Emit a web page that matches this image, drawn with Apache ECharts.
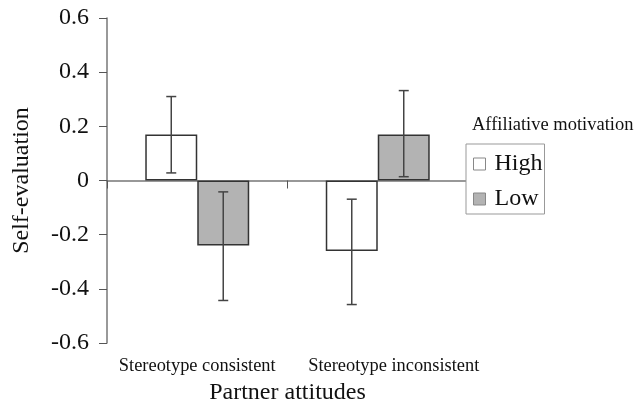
<!DOCTYPE html>
<html><head><meta charset="utf-8">
<script src="https://cdn.jsdelivr.net/npm/echarts@6/dist/echarts.min.js"></script>
<style>html,body{margin:0;padding:0;background:#fff}#c{width:636px;height:404px}</style>
</head><body><div id="c"></div>
<script>
const categories = ['Stereotype consistent', 'Stereotype inconsistent'];
const seriesNames = ['High', 'Low'];
const highValues = [0.17, -0.26];
const lowValues = [-0.24, 0.17];
const highErrLow = [0.028, -0.458];
const highErrHigh = [0.31, -0.069];
const lowErrLow = [-0.443, 0.014];
const lowErrHigh = [-0.042, 0.332];
const yTicks = [-0.6, -0.4, -0.2, 0, 0.2, 0.4, 0.6];

const FONT = "'Liberation Serif','Times New Roman',serif";
const BAR_FRAC = 0.288;
const LABEL_PAD = [0, 32];

function errSeries(lo, hi, sign) {
  return {
    type: 'custom',
    z: 5,
    data: categories.map((c, i) => [i, lo[i], hi[i]]),
    renderItem: function (params, api) {
      const band = api.size([1, 0])[0];
      const p0 = api.coord([api.value(0), api.value(1)]);
      const p1 = api.coord([api.value(0), api.value(2)]);
      const x = p0[0] + sign * band * BAR_FRAC / 2;
      const w = 5;
      const st = { stroke: '#444', lineWidth: 1.5 };
      return { type: 'group', children: [
        { type: 'line', shape: { x1: x, y1: p0[1], x2: x, y2: p1[1] }, style: st },
        { type: 'line', shape: { x1: x - w, y1: p0[1], x2: x + w, y2: p0[1] }, style: st },
        { type: 'line', shape: { x1: x - w, y1: p1[1], x2: x + w, y2: p1[1] }, style: st }
      ]};
    }
  };
}

const chart = echarts.init(document.getElementById('c'), null, { renderer: 'canvas' });
chart.setOption({
  animation: false,
  backgroundColor: '#fff',
  title: {
    text: 'Affiliative motivation', left: 472, top: 116, padding: 0,
    textStyle: { fontFamily: FONT, fontSize: 18.5, fontWeight: 'normal', color: '#111' }
  },
  legend: {
    orient: 'vertical', left: 466, top: 144,
    data: [
      { name: 'High', icon: 'rect', itemStyle: { color: '#fff', borderColor: '#888', borderWidth: 1 } },
      { name: 'Low', icon: 'rect', itemStyle: { color: '#b3b3b3', borderColor: '#888', borderWidth: 1 } }
    ],
    itemWidth: 12, itemHeight: 12, itemGap: 11,
    padding: [8, 2, 3, 7],
    borderColor: '#999', borderWidth: 1, backgroundColor: '#fff',
    textStyle: { fontFamily: FONT, fontSize: 24, color: '#111', padding: [0, 0, 0, 4] }
  },
  grid: { left: 107, right: 168, top: 18, bottom: 61, containLabel: false, outerBoundsMode: 'none' },
  xAxis: [
    {
      type: 'category', data: categories,
      axisLine: { onZero: true, lineStyle: { color: '#777', width: 1.5 } },
      axisTick: { show: true, interval: 0, length: 8, lineStyle: { color: '#555' } },
      axisLabel: { show: false }
    },
    {
      type: 'category', position: 'bottom',
      data: categories.map((c, i) => ({ value: c, textStyle: { padding: [0, 0, 0, LABEL_PAD[i]] } })),
      axisLine: { show: false, onZero: false }, axisTick: { show: false },
      axisLabel: { interval: 0, margin: 14, fontFamily: FONT, fontSize: 18.4, color: '#111' },
      name: 'Partner attitudes', nameLocation: 'middle', nameGap: 38,
      nameTextStyle: { fontFamily: FONT, fontSize: 24, color: '#111' }
    }
  ],
  yAxis: {
    type: 'value', min: yTicks[0], max: yTicks[yTicks.length - 1], interval: 0.2,
    axisLine: { show: true, lineStyle: { color: '#777', width: 1.5 } },
    axisTick: { show: true, length: 8, lineStyle: { color: '#555' } },
    splitLine: { show: false },
    axisLabel: { margin: 18, fontFamily: FONT, fontSize: 24, color: '#111',
      formatter: v => { const t = yTicks.find(k => Math.abs(k - v) < 1e-9); return t === 0 ? '0' : (Math.round(v * 10) / 10).toFixed(1); } },
    name: 'Self-evaluation', nameLocation: 'middle', nameGap: 73,
    nameTextStyle: { fontFamily: FONT, fontSize: 24, color: '#111' }
  },
  series: [
    { name: 'High', type: 'bar', data: highValues, barWidth: (BAR_FRAC * 100) + '%', barGap: '0%',
      itemStyle: { color: '#fff', borderColor: '#333', borderWidth: 1.5 } },
    { name: 'Low', type: 'bar', data: lowValues, barWidth: (BAR_FRAC * 100) + '%', barGap: '0%',
      itemStyle: { color: '#b3b3b3', borderColor: '#333', borderWidth: 1.5 } },
    errSeries(highErrLow, highErrHigh, -1),
    errSeries(lowErrLow, lowErrHigh, 1)
  ]
});
</script></body></html>
